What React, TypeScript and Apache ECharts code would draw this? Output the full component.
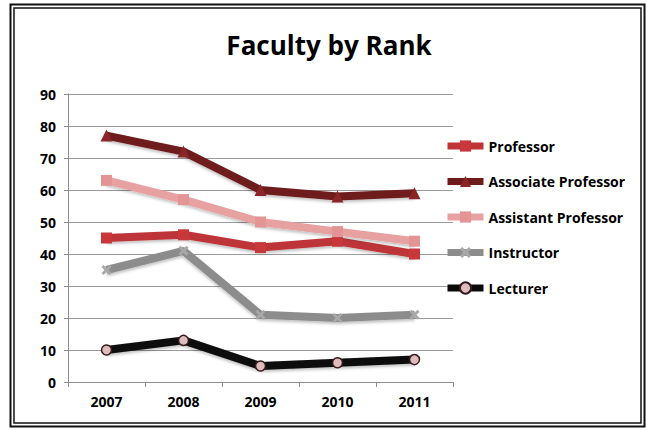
import React, { useEffect, useRef } from "react";
import * as echarts from "echarts";

const years = ["2007", "2008", "2009", "2010", "2011"];
const professor = [45, 46, 42, 44, 40];
const associate = [77, 72, 60, 58, 59];
const assistant = [63, 57, 50, 47, 44];
const instructor = [35, 41, 21, 20, 21];
const lecturer = [10, 13, 5, 6, 7];

const FONT = "'Open Sans', 'DejaVu Sans', sans-serif";
const XSYM = "path://M2,0 L5,3 L8,0 L10,2 L7,5 L10,8 L8,10 L5,7 L2,10 L0,8 L3,5 L0,2Z";

export default function App() {
  const ref = useRef<HTMLDivElement>(null);
  useEffect(() => {
    if (!ref.current) return;
    const chart = echarts.init(ref.current, null, { renderer: "svg" });
    const mk = (name: string, data: number[], color: string, symbol: string, size: number, mColor: string, mBorder?: string) => ({
      name,
      type: "line",
      data,
      symbol,
      symbolSize: size,
      showAllSymbol: true,
      lineStyle: { color, width: 8, shadowColor: "rgba(0,0,0,0.25)", shadowBlur: 3, shadowOffsetY: 2 },
      itemStyle: { color: mColor, borderColor: mBorder || mColor, borderWidth: mBorder ? 1.5 : 0 },
      z: 3,
    });
    chart.setOption({
      animation: false,
      backgroundColor: "#fff",
      title: {
        text: "Faculty by Rank",
        left: 324,
        textAlign: "center",
        top: 27,
        textStyle: { fontFamily: FONT, fontSize: 26, fontWeight: "bold", color: "#000" },
      },
      graphic: [
        { type: "rect", shape: { x: 10.5, y: 4.5, width: 634, height: 422 }, style: { fill: "none", stroke: "#111", lineWidth: 2 } },
        { type: "rect", shape: { x: 14, y: 8, width: 627, height: 415 }, style: { fill: "none", stroke: "#111", lineWidth: 1.5 } },
      ],
      legend: {
        orient: "vertical",
        left: 439,
        top: 134,
        itemWidth: 36,
        itemHeight: 14,
        itemGap: 21.5,
        lineStyle: { width: 7 },
        textStyle: { fontFamily: FONT, fontSize: 14, fontWeight: "bold", color: "#000" },
        data: ["Professor", "Associate Professor", "Assistant Professor", "Instructor", "Lecturer"],
      },
      grid: { left: 68, right: 197, top: 94, bottom: 48 },
      xAxis: {
        type: "category",
        data: years,
        boundaryGap: true,
        axisLine: { lineStyle: { color: "#8c8c8c" } },
        axisTick: { show: true, length: 5, lineStyle: { color: "#8c8c8c" } },
        axisLabel: { fontFamily: FONT, fontSize: 14, fontWeight: "bold", color: "#000", margin: 12 },
      },
      yAxis: {
        type: "value",
        min: 0,
        max: 90,
        interval: 10,
        axisLine: { show: true, lineStyle: { color: "#8c8c8c" } },
        axisTick: { show: true, length: 4, lineStyle: { color: "#8c8c8c" } },
        splitLine: { lineStyle: { color: "#9a9a9a", width: 1 } },
        axisLabel: { fontFamily: FONT, fontSize: 14, fontWeight: "bold", color: "#000", margin: 12 },
      },
      series: [
        mk("Professor", professor, "#bd3537", "rect", 11, "#c8373a"),
        mk("Associate Professor", associate, "#6e1b1c", "triangle", 12, "#8a2628"),
        mk("Assistant Professor", assistant, "#e8a1a1", "rect", 11, "#e39494"),
        mk("Instructor", instructor, "#8c8c8c", XSYM, 10, "#a8a8a8"),
        mk("Lecturer", lecturer, "#0a0a0a", "circle", 10, "#dcbcbc", "#3a1a1a"),
      ],
    });
    return () => chart.dispose();
  }, []);
  return <div ref={ref} style={{ position: "fixed", left: 0, top: 0, width: 650, height: 430 }} />;
}
